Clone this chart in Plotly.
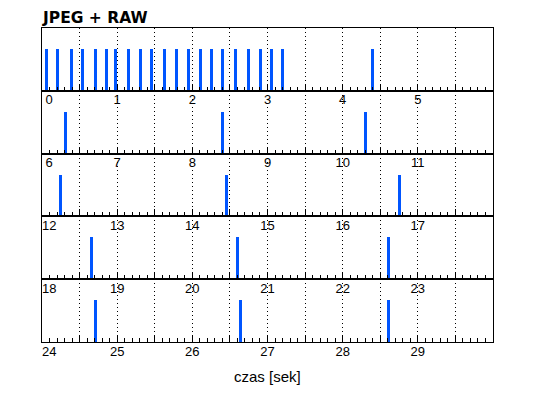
import plotly.graph_objects as go
from plotly.subplots import make_subplots

# Event times in seconds
event_times = [0.059, 0.20, 0.387, 0.533, 0.707, 0.859, 0.973, 1.152, 1.307, 1.459,
               1.627, 1.792, 1.952, 2.112, 2.249, 2.405, 2.579, 2.743, 2.907, 3.053,
               3.20, 4.40,
               6.309, 8.399, 10.309,
               12.24, 14.459, 16.76,
               18.653, 20.60, 22.613,
               24.709, 26.64, 28.613]
event_height = 0.66
row_starts = [0, 6, 12, 18, 24]
row_length = 6
title_text = "JPEG + RAW"
x_title = "czas [sek]"
bar_color = "#0055ff"

W, H = 538, 398
off = 8  # page body margin
ml, mr, mt, mb = 42.3 - off, 45 + off, 28.3 - off, 56.3 + off

fig = make_subplots(rows=len(row_starts), cols=1, vertical_spacing=0)

for i, start in enumerate(row_starts):
    r = i + 1
    xs = [t for t in event_times if start <= t < start + row_length]
    fig.add_trace(go.Bar(x=xs, y=[event_height] * len(xs), width=0.04,
                         marker=dict(color=bar_color, line=dict(width=0)),
                         showlegend=False, hoverinfo="x"), row=r, col=1)
    tickvals = [start + 0.5 * k for k in range(2 * row_length + 1)]
    ticktext = []
    for k, v in enumerate(tickvals):
        if k % 2 == 0 and k < 2 * row_length:
            lab = str(int(round(v)))
            if k == 0:
                lab = "\u00a0" * 4 + lab
            ticktext.append(lab)
        else:
            ticktext.append("")
    fig.update_xaxes(row=r, col=1, range=[start, start + row_length],
                     tickmode="array", tickvals=tickvals, ticktext=ticktext,
                     ticks="inside", ticklen=7, tickwidth=1, tickcolor="black",
                     ticklabelstandoff=-3,
                     showline=True, linecolor="black", linewidth=1, mirror=True,
                     showgrid=True, gridcolor="black", gridwidth=1, griddash="1px,3px",
                     zeroline=False,
                     minor=dict(dtick=0.1, tick0=0, ticks="inside", ticklen=4,
                                tickcolor="black", tickwidth=1, showgrid=False),
                     tickfont=dict(family="Liberation Sans, Arial, sans-serif", size=13, color="black"))
    fig.update_yaxes(row=r, col=1, range=[0, 1], showticklabels=False, ticks="",
                     showgrid=False, zeroline=False,
                     showline=True, linecolor="black", linewidth=1, mirror=True)

plot_h = H - mt - mb
fig.add_annotation(text=x_title, xref="paper", yref="paper", x=0.5,
                   y=-(376 - 341.7) / plot_h, xanchor="center", yanchor="middle",
                   showarrow=False,
                   font=dict(family="Liberation Sans, Arial, sans-serif", size=15, color="black"))

fig.update_layout(
    width=W, height=H,
    margin=dict(l=ml, r=mr, t=mt, b=mb, pad=0),
    paper_bgcolor="white", plot_bgcolor="white",
    bargap=0,
    title=dict(text="<b>" + title_text + "</b>", x=(43 - off) / W, xanchor="left",
               xref="container", yref="container", y=1 - (18 - off) / H, yanchor="middle",
               font=dict(family="DejaVu Sans", size=15.5, color="black")),
)

fig.write_html("out.html")
